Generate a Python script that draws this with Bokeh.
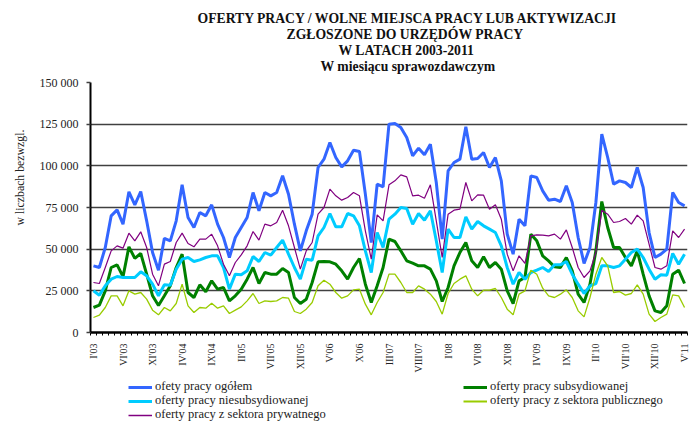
import math
import numpy as np
from bokeh.plotting import figure
from bokeh.layouts import column
from bokeh.models import Range1d, FixedTicker, Legend, LegendItem, ColumnDataSource, Title
from bokeh.embed import file_html
from bokeh.resources import INLINE

# ---------------- data ----------------
months = list(range(101))  # I'03 .. V'11
tick_positions = list(range(0, 101, 5))
tick_labels = ["I'03", "VI'03", "XI'03", "IV'04", "IX'04", "II'05", "VII'05", "XII'05",
               "V'06", "X'06", "III'07", "VIII'07", "I'08", "VI'08", "XI'08", "IV'09",
               "IX'09", "II'10", "VII'10", "XII'10", "V'11"]
y_ticks = [0, 25000, 50000, 75000, 100000, 125000, 150000]
y_tick_labels = ["0", "25 000", "50 000", "75 000", "100 000", "125 000", "150 000"]

ogolem = [40000, 39000, 51000, 70000, 73600, 65000, 84400, 76600, 84600, 67000, 48000, 37400,
          56500, 55000, 67000, 88600, 69000, 63000, 72000, 70000, 76600, 65000, 57000, 45000,
          57000, 63000, 69000, 84000, 73000, 84000, 82000, 84000, 94000, 83000, 65000, 49000,
          61000, 71000, 99000, 104000, 114000, 105000, 99400, 103000, 109400, 108600, 83000, 54000,
          89000, 87400, 125000, 125400, 123000, 117000, 106000, 110600, 106600, 113000, 90000, 56000,
          97000, 102000, 104000, 123400, 104000, 104400, 108000, 99000, 105000, 91000, 59000, 47000,
          68000, 64000, 94000, 93000, 85000, 79400, 80000, 78600, 88000, 78000, 57000, 41400,
          51000, 78000, 119000, 105000, 89000, 91000, 90000, 87000, 99000, 87000, 60000, 45000,
          47000, 50000, 84000, 78000, 76000]
subsyd = [15000, 16400, 25000, 39000, 40600, 33500, 51400, 44500, 47400, 35000, 22000, 16200,
          22000, 28000, 39000, 47000, 24000, 21000, 28600, 24400, 31000, 26000, 27000, 19000,
          22000, 26000, 32000, 39000, 29400, 36000, 35000, 35000, 38400, 36000, 21000, 17400,
          20000, 30000, 42400, 42600, 42400, 41000, 37000, 32000, 39000, 44400, 29000, 18000,
          28000, 39000, 56000, 54600, 49000, 43000, 41600, 40000, 40000, 38000, 31000, 18600,
          27000, 40000, 48000, 54000, 43000, 39000, 45400, 39000, 42000, 38000, 25000, 17400,
          31000, 33000, 59000, 55000, 46000, 43000, 39400, 39000, 45000, 37000, 23000, 18000,
          29000, 49000, 78600, 63000, 51000, 51000, 45000, 40000, 49000, 35000, 22000, 13000,
          12000, 16000, 35000, 37400, 29400]
niesubsyd = [25000, 22400, 28000, 32000, 33600, 33000, 33000, 33000, 36400, 34000, 29000, 22000,
             28600, 28400, 38000, 44000, 45000, 42600, 43600, 45000, 46000, 46000, 39000, 26000,
             35000, 34600, 37000, 45600, 42600, 48000, 46400, 51000, 55400, 47000, 39000, 32000,
             44000, 43400, 58000, 63000, 71400, 63400, 63400, 71400, 70000, 64000, 49000, 36000,
             60000, 51000, 68000, 71000, 75000, 74400, 65000, 71400, 67400, 73000, 55000, 36000,
             62000, 57000, 57000, 69400, 62000, 66600, 64000, 62000, 60000, 52000, 39000, 29000,
             36000, 32000, 36000, 37400, 39000, 36600, 40600, 40600, 42600, 35000, 29000, 23400,
             28000, 29400, 40000, 40000, 39000, 40000, 44000, 48000, 50000, 45000, 38000, 32000,
             34600, 34400, 47400, 41000, 47000]
publiczny = [9000, 10400, 15000, 22000, 22000, 16000, 25000, 23000, 24000, 20000, 13400, 10600,
             15000, 13000, 17400, 29000, 16000, 12000, 15000, 14600, 17600, 14600, 16000, 11400,
             13400, 15400, 19000, 23400, 17400, 19000, 18600, 19000, 21000, 20600, 12600, 11400,
             14000, 18000, 28000, 31400, 29000, 24000, 20600, 22000, 25600, 26000, 17000, 10600,
             18000, 24000, 35000, 35000, 30000, 24000, 24000, 28000, 26000, 23000, 18600, 11000,
             23400, 29400, 32000, 34000, 26000, 22000, 25400, 25400, 26400, 21000, 14000, 10600,
             23000, 25000, 37400, 35000, 26600, 22000, 21000, 23000, 25600, 21000, 13000, 9400,
             21000, 35000, 45000, 40000, 24000, 24600, 22400, 23400, 28600, 23000, 11000, 6600,
             9000, 11000, 22600, 22000, 15000]
prywatny = [30000, 29400, 39000, 49000, 52000, 50600, 59600, 55000, 60400, 51000, 35000, 28000,
            41000, 42600, 54000, 59600, 53400, 51400, 56000, 56000, 59000, 52000, 41000, 34000,
            42000, 46600, 52000, 60600, 55400, 65000, 64000, 66000, 73400, 64000, 51000, 38000,
            49000, 54000, 71000, 75000, 86000, 82000, 79400, 81000, 84000, 82000, 61000, 44000,
            70600, 67000, 88600, 91000, 94600, 93400, 82000, 82400, 80600, 88600, 67000, 45000,
            71000, 73400, 74000, 90000, 79000, 82600, 82400, 74000, 76600, 68000, 47000, 37000,
            46000, 41500, 58000, 58600, 58400, 58000, 59000, 56000, 61600, 51000, 39000, 33000,
            37000, 48000, 73400, 71000, 66000, 66600, 68400, 65000, 70400, 67000, 53000, 39000,
            38000, 40000, 61000, 57000, 62000]

series_names = ["ofety pracy ogółem", "oferty pracy subsydiowanej",
                "oferty pracy niesubsydiowanej", "oferty pracy z sektora publicznego",
                "oferty pracy z sektora prywatnego"]

source = ColumnDataSource(dict(m=months, ogolem=ogolem, subsyd=subsyd, niesubsyd=niesubsyd,
                               publiczny=publiczny, prywatny=prywatny))

SERIF = "Liberation Serif"
C_OG, C_SUB, C_NSUB, C_PUB, C_PRY = "#3366ff", "#008000", "#00ccff", "#99cc00", "#800080"

p = figure(width=690, height=376, output_backend="svg", toolbar_location=None,
           x_range=Range1d(-0.5, 100.5), y_range=Range1d(0, 150000),
           min_border_left=90, min_border_right=3, min_border_top=82, min_border_bottom=44)
p.outline_line_color = None
p.background_fill_color = "white"
p.border_fill_color = "white"

# grid
p.xgrid.visible = False
p.ygrid.ticker = FixedTicker(ticks=y_ticks)
p.ygrid.grid_line_color = "#404040"
p.ygrid.grid_line_width = 1.4

# y axis
p.yaxis.ticker = FixedTicker(ticks=y_ticks)
p.yaxis.major_label_overrides = {t: l for t, l in zip(y_ticks, y_tick_labels)}
p.yaxis.axis_line_color = "black"
p.yaxis.axis_line_width = 2
p.yaxis.major_tick_out = 4
p.yaxis.major_tick_in = 0
p.yaxis.major_tick_line_color = "#404040"
p.yaxis.major_tick_line_width = 1.4
p.yaxis.minor_tick_line_color = None
p.yaxis.major_label_standoff = 8
p.yaxis.major_label_text_font = SERIF
p.yaxis.major_label_text_font_size = "12px"
p.yaxis.major_label_text_color = "#222222"

# x axis
p.xaxis.ticker = FixedTicker(ticks=tick_positions, minor_ticks=[i - 0.5 for i in range(102)])
p.xaxis.major_label_overrides = {t: l for t, l in zip(tick_positions, tick_labels)}
p.xaxis.major_label_orientation = math.pi / 2
p.xaxis.axis_line_color = "black"
p.xaxis.axis_line_width = 2.5
p.xaxis.major_tick_line_color = None
p.xaxis.major_tick_out = 4
p.xaxis.major_tick_in = 0
p.xaxis.minor_tick_line_color = "black"
p.xaxis.minor_tick_out = 3
p.xaxis.minor_tick_in = 0
p.xaxis.major_label_standoff = 7
p.xaxis.axis_label_standoff = 0
p.xaxis.major_label_text_font = SERIF
p.xaxis.major_label_text_font_size = "10px"
p.xaxis.major_label_text_color = "#222222"

# lines
p.line("m", "ogolem", source=source, line_color=C_OG, line_width=3)
p.line("m", "subsyd", source=source, line_color=C_SUB, line_width=3)
p.line("m", "niesubsyd", source=source, line_color=C_NSUB, line_width=3)
p.line("m", "publiczny", source=source, line_color=C_PUB, line_width=1.3)
p.line("m", "prywatny", source=source, line_color=C_PRY, line_width=1.2)

# spacer between the frame and the title block
p.add_layout(Title(text=" ", standoff=0, text_font=SERIF, text_font_size="6.5px"), "above")

# titles (bottom line first: later ones stack further from the frame)
title_lines = ["OFERTY PRACY / WOLNE MIEJSCA  PRACY  LUB  AKTYWIZACJI",
               "ZGŁOSZONE DO URZĘDÓW  PRACY",
               "W LATACH 2003-2011",
               "W miesiącu  sprawozdawczym"]
title_offsets = [107, 196, 248, 230]
for txt, off in reversed(list(zip(title_lines, title_offsets))):
    p.add_layout(Title(text=txt, align="left", offset=off, standoff=-1,
                       text_font=SERIF, text_font_style="bold", text_font_size="13.7px",
                       text_color="#111111"), "above")

p.add_layout(Title(text="w liczbach bezwzgl.", align="left", offset=107, standoff=20,
                   text_font=SERIF, text_font_style="normal", text_font_size="11.8px",
                   text_color="#222222"), "left")

# ---------------- legend strip ----------------
lf = figure(width=690, height=52, output_backend="svg", toolbar_location=None,
            x_range=Range1d(0, 1), y_range=Range1d(0, 1),
            x_axis_location=None, y_axis_location=None, min_border=0)
lf.outline_line_color = None
lf.xgrid.visible = False
lf.ygrid.visible = False
empty = ColumnDataSource(dict(x=np.array([np.nan, np.nan]), y=np.array([np.nan, np.nan])))
lr_og = lf.line("x", "y", source=empty, line_color=C_OG, line_width=3)
lr_sub = lf.line("x", "y", source=empty, line_color=C_SUB, line_width=3)
lr_nsub = lf.line("x", "y", source=empty, line_color=C_NSUB, line_width=3)
lr_pub = lf.line("x", "y", source=empty, line_color=C_PUB, line_width=2)
lr_pry = lf.line("x", "y", source=empty, line_color=C_PRY, line_width=1.5)

def make_legend(label, renderer, loc):
    return Legend(items=[LegendItem(label=label, renderers=[renderer])], location=loc,
                  orientation="vertical",
                  glyph_width=24, glyph_height=12, label_height=12, label_standoff=3,
                  spacing=0, padding=0, margin=0, border_line_color=None,
                  background_fill_alpha=0, label_text_font=SERIF,
                  label_text_font_size="12.5px", label_text_color="#222222")

# one legend entry per row, two columns as in the reference
lf.add_layout(make_legend(series_names[0], lr_og, (38, 34)))
lf.add_layout(make_legend(series_names[2], lr_nsub, (38, 20)))
lf.add_layout(make_legend(series_names[4], lr_pry, (38, 6)))
lf.add_layout(make_legend(series_names[1], lr_sub, (373, 34)))
lf.add_layout(make_legend(series_names[3], lr_pub, (373, 20)))

layout = column(p, lf, spacing=0)
open("out.html", "w").write(file_html(layout, INLINE))
